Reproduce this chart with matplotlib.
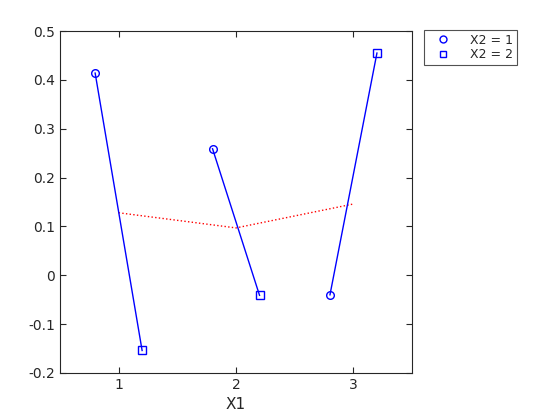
import matplotlib
matplotlib.use("Agg")
import matplotlib.pyplot as plt
from matplotlib.lines import Line2D

x1_levels = [1, 2, 3]
offset = 0.2
x2_1_values = [0.414, 0.259, -0.040]
x2_2_values = [-0.154, -0.041, 0.455]
mean_values = [0.128, 0.097, 0.146]
xticks = [1, 2, 3]
yticks = [-0.2, -0.1, 0, 0.1, 0.2, 0.3, 0.4, 0.5]
ytick_labels = ["-0.2", "-0.1", "0", "0.1", "0.2", "0.3", "0.4", "0.5"]

dark = (0.15, 0.15, 0.15)
fig = plt.figure(figsize=(5.6, 4.2), dpi=100)
ax = fig.add_axes([0.107, 0.112, 0.629, 0.814])

ax.plot(x1_levels, mean_values, linestyle=':', color='red', linewidth=1)
for xv, a, b in zip(x1_levels, x2_1_values, x2_2_values):
    ax.plot([xv - offset, xv + offset], [a, b], '-', color='blue', linewidth=1)
    ax.plot(xv - offset, a, marker='o', markersize=5.5, markerfacecolor='none',
            markeredgecolor='blue', linestyle='none')
    ax.plot(xv + offset, b, marker='s', markersize=5.5, markerfacecolor='none',
            markeredgecolor='blue', linestyle='none')

ax.set_xlim(0.5, 3.5)
ax.set_ylim(-0.2, 0.5)
ax.set_xticks(xticks)
ax.set_yticks(yticks)
ax.set_yticklabels(ytick_labels)
ax.tick_params(direction='in', top=True, right=True, colors=dark, labelsize=10,
               length=4, width=0.8, labelcolor=dark)
for s in ax.spines.values():
    s.set_color(dark)
    s.set_linewidth(0.8)
ax.set_xlabel('X1', fontsize=11, color=dark)

handles = [
    Line2D([], [], marker='o', markersize=5, markerfacecolor='none',
           markeredgecolor='blue', linestyle='none', label='X2 = 1'),
    Line2D([], [], marker='s', markersize=5, markerfacecolor='none',
           markeredgecolor='blue', linestyle='none', label='X2 = 2'),
]
leg = fig.legend(handles=handles, loc='upper left',
                 bbox_to_anchor=(424 / 560, 1 - 30 / 420),
                 fontsize=9, frameon=True, fancybox=False, borderpad=0.3,
                 handletextpad=1.0, labelspacing=0.1, borderaxespad=0,
                 handlelength=2.4)
leg.get_frame().set_edgecolor(dark)
leg.get_frame().set_linewidth(0.8)
for t in leg.get_texts():
    t.set_color(dark)

fig.savefig('out.png', dpi=100)
